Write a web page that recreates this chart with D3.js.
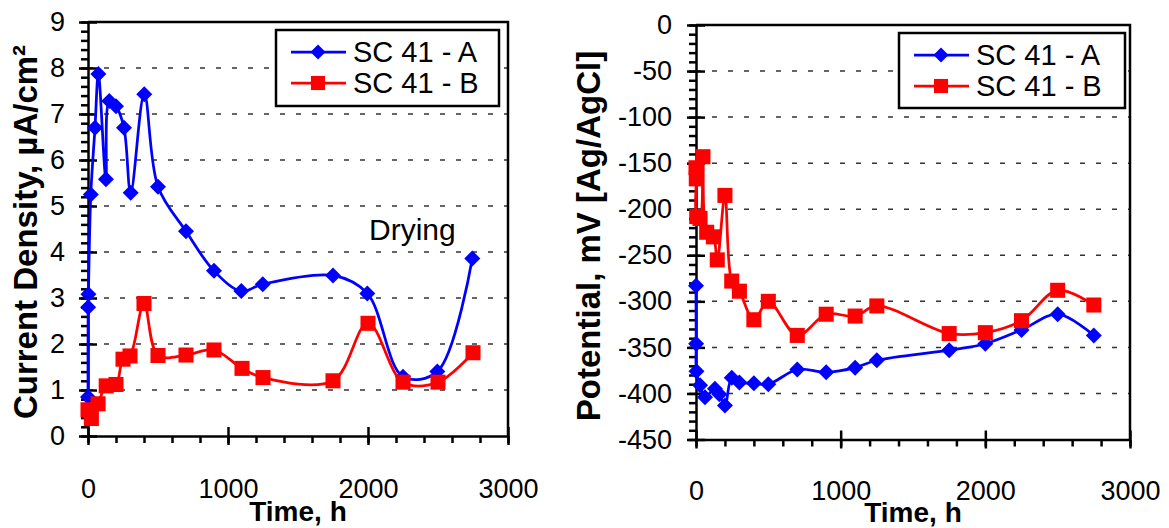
<!DOCTYPE html>
<html>
<head>
<meta charset="utf-8">
<script src="https://cdn.jsdelivr.net/npm/d3@7"></script>
<style>
  body { margin: 0; background: #fff; }
  svg text { font-family: "Liberation Sans", Arial, sans-serif; fill: #000; }
</style>
</head>
<body>
<svg id="chart" width="1169" height="528"></svg>
<script>
let WIDTH = 1169;
let HEIGHT = 528;

const seriesNames = ['SC 41 - A', 'SC 41 - B'];
const seriesColors = ['#0000ff', '#ff0000'];

const xTicks = [0, 1000, 2000, 3000];
const cdTicks = [0, 1, 2, 3, 4, 5, 6, 7, 8, 9];
const potTicks = [0, -50, -100, -150, -200, -250, -300, -350, -400, -450];

// current density, uA/cm2
const timeCdA = [0, 1, 3, 20, 50, 74, 128, 152, 200, 257, 305, 402, 500, 700, 900, 1095, 1248, 1750, 1995, 2250, 2495, 2745];
const cdA = [0.85, 2.8, 3.08, 5.25, 6.7, 7.87, 5.58, 7.28, 7.17, 6.7, 5.29, 7.43, 5.42, 4.45, 3.59, 3.15, 3.3, 3.49, 3.1, 1.29, 1.4, 3.86];
const timeCdB = [0, 24, 72, 130, 200, 250, 300, 400, 500, 700, 900, 1100, 1250, 1750, 2000, 2250, 2500, 2750];
const cdB = [0.57, 0.38, 0.7, 1.09, 1.12, 1.67, 1.74, 2.88, 1.75, 1.76, 1.87, 1.47, 1.27, 1.2, 2.45, 1.17, 1.17, 1.81];

// potential, mV
const timePotA = [0, 1, 3, 28, 62, 131, 161, 200, 247, 300, 400, 500, 700, 900, 1100, 1250, 1750, 2000, 2250, 2500, 2750];
const potA = [-283, -346, -376, -391, -404, -395, -401, -413, -383, -388, -389, -390, -374, -377, -372, -364, -353, -346, -331, -314, -337];
const timePotB = [0, 2, 5, 28, 48, 74, 120, 147, 200, 247, 300, 400, 500, 700, 900, 1100, 1250, 1750, 2000, 2250, 2500, 2750];
const potB = [-155, -167, -208, -210, -143, -225, -230, -255, -185, -278, -289, -320, -300, -337, -314, -316, -305, -335, -334, -321, -288, -304];

const svg = d3.select('#chart');

const drawMarker = (sel, i, s) => {
  if (i === 0) {
    sel.append('path')
      .attr('d', `M0,${-s}L${s},0L0,${s}L${-s},0Z`)
      .attr('fill', seriesColors[0]);
  } else {
    const h = s * 0.94;
    sel.append('rect')
      .attr('x', -h).attr('y', -h)
      .attr('width', 2 * h).attr('height', 2 * h)
      .attr('fill', seriesColors[1]);
  }
};

const drawPanel = (cfg) => {
  const g = svg.append('g');
  const x = d3.scaleLinear().domain([0, 3000]).range([cfg.left, cfg.right]);
  const y = d3.scaleLinear().domain(cfg.yDomain).range([cfg.bottom, cfg.top]);

  // dashed grid
  g.append('g').selectAll('line')
    .data(cfg.grid)
    .join('line')
      .attr('x1', cfg.left).attr('x2', cfg.right)
      .attr('y1', d => y(d)).attr('y2', d => y(d))
      .attr('stroke', '#333').attr('stroke-width', 1.5)
      .attr('stroke-dasharray', '5,11');

  // frame top + right
  g.append('path')
    .attr('d', `M${cfg.left},${cfg.top}H${cfg.right}V${cfg.bottom}`)
    .attr('fill', 'none').attr('stroke', '#000').attr('stroke-width', 2.5);

  const styleAxis = a => {
    a.select('.domain').attr('stroke', '#000').attr('stroke-width', 2.5);
    a.selectAll('.tick line').attr('stroke', '#000').attr('stroke-width', 2.5);
    a.selectAll('.tick text').attr('font-size', 27).attr('fill', '#000');
  };
  const noDomain = a => {
    a.select('.domain').remove();
    a.selectAll('.tick line').attr('stroke', '#000').attr('stroke-width', 2.5);
  };

  // y axis: minor, inner major, outer major with labels
  g.append('g').attr('transform', `translate(${cfg.left},0)`)
    .call(d3.axisLeft(y).tickValues(cfg.yMinor).tickSize(7).tickFormat(''))
    .call(noDomain);
  g.append('g').attr('transform', `translate(${cfg.left},0)`)
    .call(d3.axisLeft(y).tickValues(cfg.yTicks).tickSize(-9).tickFormat(''))
    .call(noDomain);
  g.append('g').attr('transform', `translate(${cfg.left},0)`)
    .call(d3.axisLeft(y).tickValues(cfg.yTicks).tickSizeInner(9).tickSizeOuter(0)
      .tickPadding(cfg.yPad).tickFormat(d => String(d)))
    .call(styleAxis);

  // x axis
  const xMinor = d3.range(0, 3001, 200);
  g.append('g').attr('transform', `translate(0,${cfg.bottom})`)
    .call(d3.axisBottom(x).tickValues(xMinor).tickSize(7).tickFormat(''))
    .call(noDomain);
  g.append('g').attr('transform', `translate(0,${cfg.bottom})`)
    .call(d3.axisBottom(x).tickValues(xTicks).tickSize(-9).tickFormat(''))
    .call(noDomain);
  g.append('g').attr('transform', `translate(0,${cfg.bottom})`)
    .call(d3.axisBottom(x).tickValues(xTicks).tickSizeInner(9).tickSizeOuter(0)
      .tickPadding(cfg.xPad).tickFormat(d => String(d)))
    .call(styleAxis);

  // titles
  g.append('text')
    .attr('transform', `translate(${cfg.yTitleX},${cfg.yTitleY}) rotate(-90)`)
    .attr('text-anchor', 'middle')
    .attr('font-size', 33).attr('font-weight', 'bold')
    .text(cfg.yTitle);
  g.append('text')
    .attr('x', (cfg.left + cfg.right) / 2).attr('y', cfg.xTitleY)
    .attr('text-anchor', 'middle')
    .attr('font-size', 28).attr('font-weight', 'bold')
    .text('Time, h');

  // legend
  const lg = g.append('g').attr('transform', `translate(${cfg.legend[0]},${cfg.legend[1]})`);
  lg.append('rect')
    .attr('width', cfg.legend[2]).attr('height', cfg.legend[3])
    .attr('fill', '#fff').attr('stroke', '#000').attr('stroke-width', 2.5);
  seriesNames.forEach((name, i) => {
    const row = lg.append('g').attr('transform', `translate(0,${22 + i * 31})`);
    row.append('line')
      .attr('x1', 15).attr('x2', 70)
      .attr('stroke', seriesColors[i]).attr('stroke-width', 2.75);
    row.append('g').attr('transform', 'translate(42,0)').call(sel => drawMarker(sel, i, 7.5));
    row.append('text')
      .attr('x', 77).attr('dy', '0.36em')
      .attr('font-size', 29)
      .text(name);
  });

  // series
  const line = d3.line()
    .x(d => x(d[0]))
    .y(d => y(d[1]))
    .curve(d3.curveCatmullRom);

  cfg.series.forEach((pts, i) => {
    g.append('path')
      .datum(pts)
      .attr('d', line)
      .attr('fill', 'none')
      .attr('stroke', seriesColors[i])
      .attr('stroke-width', 2.75);
    g.append('g').selectAll('g')
      .data(pts)
      .join('g')
        .attr('transform', d => `translate(${x(d[0])},${y(d[1])})`)
        .each(function () { drawMarker(d3.select(this), i, 8); });
  });

  return { x, y, g };
};

const left = drawPanel({
  left: 88, right: 508, top: 22, bottom: 436,
  yDomain: [0, 9],
  yTicks: cdTicks,
  yMinor: d3.range(0, 9.001, 0.2),
  grid: [1, 2, 3, 4, 5, 6, 7, 8],
  yPad: 14, xPad: 34,
  yTitle: 'Current Density, µA/cm²', yTitleX: 37, yTitleY: 232,
  xTitleY: 521,
  legend: [276, 30, 223, 76],
  series: [d3.zip(timeCdA, cdA), d3.zip(timeCdB, cdB)]
});

left.g.append('text')
  .attr('x', 369).attr('y', 240)
  .attr('font-size', 30)
  .text('Drying');

drawPanel({
  left: 696, right: 1130, top: 25, bottom: 439.5,
  yDomain: [-450, 0],
  yTicks: potTicks,
  yMinor: d3.range(-450, 0.1, 10),
  grid: [-50, -100, -150, -200, -250, -300, -350, -400],
  yPad: 15, xPad: 32,
  yTitle: 'Potential, mV [Ag/AgCl]', yTitleX: 600, yTitleY: 236,
  xTitleY: 522,
  legend: [899, 33, 226, 75],
  series: [d3.zip(timePotA, potA), d3.zip(timePotB, potB)]
});
</script>
</body>
</html>
